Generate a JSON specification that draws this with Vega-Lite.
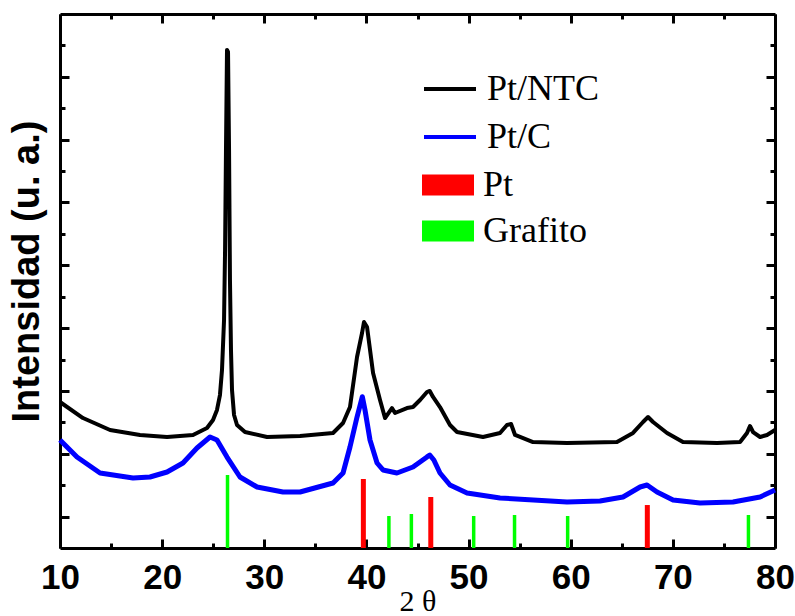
{
  "$schema": "https://vega.github.io/schema/vega-lite/v6.json",
  "width": 715,
  "height": 534,
  "autosize": "none",
  "padding": {"left": 60, "top": 14, "right": 20, "bottom": 68},
  "background": "white",
  "config": {
    "view": {"stroke": null},
    "axis": {
      "grid": false,
      "domainColor": "black",
      "domainWidth": 3,
      "tickColor": "black",
      "tickWidth": 3,
      "tickSize": -9,
      "labelFont": "Liberation Sans",
      "labelFontWeight": "bold",
      "labelFontSize": 35,
      "labelColor": "black",
      "titleColor": "black"
    }
  },
  "datasets": {
    "curvas": [
      {"muestra": "Pt/NTC", "dos_theta": 10.0, "intensidad": 2324},
      {"muestra": "Pt/NTC", "dos_theta": 12.25, "intensidad": 2069},
      {"muestra": "Pt/NTC", "dos_theta": 14.9, "intensidad": 1878},
      {"muestra": "Pt/NTC", "dos_theta": 17.83, "intensidad": 1799},
      {"muestra": "Pt/NTC", "dos_theta": 20.48, "intensidad": 1767},
      {"muestra": "Pt/NTC", "dos_theta": 23.02, "intensidad": 1799},
      {"muestra": "Pt/NTC", "dos_theta": 24.39, "intensidad": 1910},
      {"muestra": "Pt/NTC", "dos_theta": 24.98, "intensidad": 2037},
      {"muestra": "Pt/NTC", "dos_theta": 25.37, "intensidad": 2197},
      {"muestra": "Pt/NTC", "dos_theta": 25.66, "intensidad": 2435},
      {"muestra": "Pt/NTC", "dos_theta": 25.86, "intensidad": 2833},
      {"muestra": "Pt/NTC", "dos_theta": 26.06, "intensidad": 3629},
      {"muestra": "Pt/NTC", "dos_theta": 26.16, "intensidad": 4743},
      {"muestra": "Pt/NTC", "dos_theta": 26.25, "intensidad": 6335},
      {"muestra": "Pt/NTC", "dos_theta": 26.35, "intensidad": 7927},
      {"muestra": "Pt/NTC", "dos_theta": 26.45, "intensidad": 7895},
      {"muestra": "Pt/NTC", "dos_theta": 26.55, "intensidad": 6335},
      {"muestra": "Pt/NTC", "dos_theta": 26.64, "intensidad": 4266},
      {"muestra": "Pt/NTC", "dos_theta": 26.74, "intensidad": 3152},
      {"muestra": "Pt/NTC", "dos_theta": 26.84, "intensidad": 2515},
      {"muestra": "Pt/NTC", "dos_theta": 27.04, "intensidad": 2117},
      {"muestra": "Pt/NTC", "dos_theta": 27.33, "intensidad": 1958},
      {"muestra": "Pt/NTC", "dos_theta": 28.11, "intensidad": 1846},
      {"muestra": "Pt/NTC", "dos_theta": 30.27, "intensidad": 1767},
      {"muestra": "Pt/NTC", "dos_theta": 33.5, "intensidad": 1783},
      {"muestra": "Pt/NTC", "dos_theta": 36.73, "intensidad": 1831},
      {"muestra": "Pt/NTC", "dos_theta": 37.71, "intensidad": 1990},
      {"muestra": "Pt/NTC", "dos_theta": 38.39, "intensidad": 2244},
      {"muestra": "Pt/NTC", "dos_theta": 39.08, "intensidad": 3040},
      {"muestra": "Pt/NTC", "dos_theta": 39.57, "intensidad": 3422},
      {"muestra": "Pt/NTC", "dos_theta": 39.76, "intensidad": 3597},
      {"muestra": "Pt/NTC", "dos_theta": 40.06, "intensidad": 3518},
      {"muestra": "Pt/NTC", "dos_theta": 40.65, "intensidad": 2786},
      {"muestra": "Pt/NTC", "dos_theta": 41.33, "intensidad": 2356},
      {"muestra": "Pt/NTC", "dos_theta": 41.82, "intensidad": 2069},
      {"muestra": "Pt/NTC", "dos_theta": 42.5, "intensidad": 2228},
      {"muestra": "Pt/NTC", "dos_theta": 42.8, "intensidad": 2149},
      {"muestra": "Pt/NTC", "dos_theta": 43.97, "intensidad": 2228},
      {"muestra": "Pt/NTC", "dos_theta": 44.56, "intensidad": 2244},
      {"muestra": "Pt/NTC", "dos_theta": 45.25, "intensidad": 2356},
      {"muestra": "Pt/NTC", "dos_theta": 45.93, "intensidad": 2483},
      {"muestra": "Pt/NTC", "dos_theta": 46.2, "intensidad": 2500},
      {"muestra": "Pt/NTC", "dos_theta": 46.52, "intensidad": 2404},
      {"muestra": "Pt/NTC", "dos_theta": 47.2, "intensidad": 2244},
      {"muestra": "Pt/NTC", "dos_theta": 48.18, "intensidad": 1958},
      {"muestra": "Pt/NTC", "dos_theta": 48.87, "intensidad": 1846},
      {"muestra": "Pt/NTC", "dos_theta": 51.41, "intensidad": 1767},
      {"muestra": "Pt/NTC", "dos_theta": 53.08, "intensidad": 1831},
      {"muestra": "Pt/NTC", "dos_theta": 53.76, "intensidad": 1958},
      {"muestra": "Pt/NTC", "dos_theta": 54.16, "intensidad": 1974},
      {"muestra": "Pt/NTC", "dos_theta": 54.55, "intensidad": 1799},
      {"muestra": "Pt/NTC", "dos_theta": 56.31, "intensidad": 1687},
      {"muestra": "Pt/NTC", "dos_theta": 59.64, "intensidad": 1671},
      {"muestra": "Pt/NTC", "dos_theta": 64.53, "intensidad": 1687},
      {"muestra": "Pt/NTC", "dos_theta": 66.1, "intensidad": 1831},
      {"muestra": "Pt/NTC", "dos_theta": 67.08, "intensidad": 2006},
      {"muestra": "Pt/NTC", "dos_theta": 67.57, "intensidad": 2085},
      {"muestra": "Pt/NTC", "dos_theta": 68.06, "intensidad": 2006},
      {"muestra": "Pt/NTC", "dos_theta": 69.43, "intensidad": 1831},
      {"muestra": "Pt/NTC", "dos_theta": 70.99, "intensidad": 1687},
      {"muestra": "Pt/NTC", "dos_theta": 74.32, "intensidad": 1671},
      {"muestra": "Pt/NTC", "dos_theta": 76.58, "intensidad": 1687},
      {"muestra": "Pt/NTC", "dos_theta": 77.26, "intensidad": 1831},
      {"muestra": "Pt/NTC", "dos_theta": 77.55, "intensidad": 1942},
      {"muestra": "Pt/NTC", "dos_theta": 77.85, "intensidad": 1846},
      {"muestra": "Pt/NTC", "dos_theta": 78.54, "intensidad": 1767},
      {"muestra": "Pt/NTC", "dos_theta": 79.22, "intensidad": 1799},
      {"muestra": "Pt/NTC", "dos_theta": 80.0, "intensidad": 1878},
      {"muestra": "Pt/C", "dos_theta": 10.0, "intensidad": 1719},
      {"muestra": "Pt/C", "dos_theta": 11.66, "intensidad": 1448},
      {"muestra": "Pt/C", "dos_theta": 13.92, "intensidad": 1194},
      {"muestra": "Pt/C", "dos_theta": 17.15, "intensidad": 1114},
      {"muestra": "Pt/C", "dos_theta": 18.81, "intensidad": 1130},
      {"muestra": "Pt/C", "dos_theta": 20.48, "intensidad": 1210},
      {"muestra": "Pt/C", "dos_theta": 22.04, "intensidad": 1353},
      {"muestra": "Pt/C", "dos_theta": 23.41, "intensidad": 1592},
      {"muestra": "Pt/C", "dos_theta": 24.69, "intensidad": 1767},
      {"muestra": "Pt/C", "dos_theta": 25.37, "intensidad": 1719},
      {"muestra": "Pt/C", "dos_theta": 26.35, "intensidad": 1448},
      {"muestra": "Pt/C", "dos_theta": 27.62, "intensidad": 1130},
      {"muestra": "Pt/C", "dos_theta": 29.29, "intensidad": 971},
      {"muestra": "Pt/C", "dos_theta": 31.83, "intensidad": 891},
      {"muestra": "Pt/C", "dos_theta": 33.5, "intensidad": 891},
      {"muestra": "Pt/C", "dos_theta": 36.73, "intensidad": 1035},
      {"muestra": "Pt/C", "dos_theta": 37.71, "intensidad": 1194},
      {"muestra": "Pt/C", "dos_theta": 38.39, "intensidad": 1608},
      {"muestra": "Pt/C", "dos_theta": 39.08, "intensidad": 2085},
      {"muestra": "Pt/C", "dos_theta": 39.6, "intensidad": 2408},
      {"muestra": "Pt/C", "dos_theta": 39.86, "intensidad": 2197},
      {"muestra": "Pt/C", "dos_theta": 40.35, "intensidad": 1719},
      {"muestra": "Pt/C", "dos_theta": 41.04, "intensidad": 1353},
      {"muestra": "Pt/C", "dos_theta": 41.62, "intensidad": 1242},
      {"muestra": "Pt/C", "dos_theta": 42.99, "intensidad": 1194},
      {"muestra": "Pt/C", "dos_theta": 44.56, "intensidad": 1289},
      {"muestra": "Pt/C", "dos_theta": 45.93, "intensidad": 1450},
      {"muestra": "Pt/C", "dos_theta": 46.2, "intensidad": 1480},
      {"muestra": "Pt/C", "dos_theta": 46.6, "intensidad": 1400},
      {"muestra": "Pt/C", "dos_theta": 47.2, "intensidad": 1194},
      {"muestra": "Pt/C", "dos_theta": 48.18, "intensidad": 1003},
      {"muestra": "Pt/C", "dos_theta": 49.85, "intensidad": 875},
      {"muestra": "Pt/C", "dos_theta": 53.08, "intensidad": 796},
      {"muestra": "Pt/C", "dos_theta": 59.64, "intensidad": 732},
      {"muestra": "Pt/C", "dos_theta": 62.87, "intensidad": 748},
      {"muestra": "Pt/C", "dos_theta": 65.12, "intensidad": 812},
      {"muestra": "Pt/C", "dos_theta": 66.79, "intensidad": 971},
      {"muestra": "Pt/C", "dos_theta": 67.47, "intensidad": 1003},
      {"muestra": "Pt/C", "dos_theta": 68.45, "intensidad": 891},
      {"muestra": "Pt/C", "dos_theta": 70.02, "intensidad": 764},
      {"muestra": "Pt/C", "dos_theta": 72.66, "intensidad": 716},
      {"muestra": "Pt/C", "dos_theta": 75.89, "intensidad": 732},
      {"muestra": "Pt/C", "dos_theta": 78.54, "intensidad": 812},
      {"muestra": "Pt/C", "dos_theta": 80.0, "intensidad": 923}
    ],
    "picos": [
      {"fase": "Grafito", "dos_theta": 26.4, "intensidad": 1162},
      {"fase": "Pt", "dos_theta": 39.7, "intensidad": 1098},
      {"fase": "Grafito", "dos_theta": 42.2, "intensidad": 509},
      {"fase": "Grafito", "dos_theta": 44.4, "intensidad": 541},
      {"fase": "Pt", "dos_theta": 46.3, "intensidad": 812},
      {"fase": "Grafito", "dos_theta": 50.5, "intensidad": 509},
      {"fase": "Grafito", "dos_theta": 54.5, "intensidad": 525},
      {"fase": "Grafito", "dos_theta": 59.7, "intensidad": 509},
      {"fase": "Pt", "dos_theta": 67.5, "intensidad": 684},
      {"fase": "Grafito", "dos_theta": 77.4, "intensidad": 525}
    ]
  },
  "layer": [
    {
      "data": {"name": "curvas"},
      "transform": [{"filter": "datum.muestra === 'Pt/NTC'"}],
      "mark": {"type": "line", "strokeWidth": 4, "strokeJoin": "round"},
      "encoding": {
        "x": {
          "field": "dos_theta", "type": "quantitative",
          "scale": {"domain": [10, 80], "nice": false, "zero": false, "padding": 0},
          "axis": {
            "orient": "bottom", "values": [10, 20, 30, 40, 50, 60, 70, 80],
            "labelFlush": false, "labelBaseline": "alphabetic", "labelPadding": 49,
            "title": "2 θ", "titleFont": "Liberation Serif", "titleFontSize": 30,
            "titleFontWeight": "normal", "titleBaseline": "alphabetic", "titleY": 62
          }
        },
        "y": {
          "field": "intensidad", "type": "quantitative",
          "scale": {"domain": [0, 8500], "nice": false, "zero": true, "padding": 0},
          "axis": {
            "orient": "left", "values": [500, 1500, 2500, 3500, 4500, 5500, 6500, 7500],
            "labels": false,
            "title": "Intensidad (u. a.)", "titleFont": "Liberation Sans", "titleFontWeight": "bold",
            "titleFontSize": 38, "titleAngle": -90, "titleAlign": "center",
            "titleBaseline": "alphabetic", "titleX": -22, "titleY": 257
          }
        },
        "stroke": {
          "field": "muestra", "type": "nominal",
          "scale": {"domain": ["Pt/NTC", "Pt/C"], "range": ["#000000", "#0000ff"]},
          "legend": {
            "orient": "none", "legendX": 362, "legendY": 47, "title": null, "padding": 0,
            "symbolType": "M-1,0H1", "symbolSize": 2704, "symbolStrokeWidth": 4,
            "labelFont": "Liberation Serif", "labelFontSize": 36, "labelColor": "black",
            "labelOffset": 9, "rowPadding": 2
          }
        }
      }
    },
    {
      "data": {"name": "curvas"},
      "transform": [{"filter": "datum.muestra === 'Pt/C'"}],
      "mark": {"type": "line", "strokeWidth": 5, "strokeJoin": "round"},
      "encoding": {
        "x": {
          "field": "dos_theta", "type": "quantitative",
          "axis": {"orient": "top", "values": [10, 20, 30, 40, 50, 60, 70, 80], "labels": false, "title": null}
        },
        "y": {
          "field": "intensidad", "type": "quantitative",
          "axis": {"orient": "right", "values": [500, 1500, 2500, 3500, 4500, 5500, 6500, 7500], "labels": false, "title": null}
        },
        "stroke": {"field": "muestra", "type": "nominal"}
      }
    },
    {
      "data": {"name": "picos"},
      "transform": [{"filter": "datum.fase === 'Pt'"}],
      "mark": {"type": "bar", "width": 5},
      "encoding": {
        "x": {
          "field": "dos_theta", "type": "quantitative",
          "axis": {"orient": "bottom", "values": [15, 25, 35, 45, 55, 65, 75], "tickSize": -5, "domain": false, "labels": false, "title": null}
        },
        "y": {
          "field": "intensidad", "type": "quantitative", "stack": null,
          "axis": {"orient": "left", "values": [1000, 2000, 3000, 4000, 5000, 6000, 7000, 8000], "tickSize": -5, "domain": false, "labels": false, "title": null}
        },
        "fill": {
          "field": "fase", "type": "nominal",
          "scale": {"domain": ["Pt", "Grafito"], "range": ["#ff0000", "#00ff00"]},
          "legend": {
            "orient": "none", "legendX": 362, "legendY": 145, "title": null, "padding": 0,
            "symbolType": "M-1,-0.404H1V0.404H-1Z", "symbolSize": 2704, "symbolStrokeWidth": 0,
            "symbolOpacity": 1,
            "labelFont": "Liberation Serif", "labelFontSize": 36, "labelColor": "black",
            "labelOffset": 9, "rowPadding": 2
          }
        }
      }
    },
    {
      "data": {"name": "picos"},
      "transform": [{"filter": "datum.fase === 'Grafito'"}],
      "mark": {"type": "bar", "width": 3.5},
      "encoding": {
        "x": {
          "field": "dos_theta", "type": "quantitative",
          "axis": {"orient": "top", "values": [15, 25, 35, 45, 55, 65, 75], "tickSize": -5, "domain": false, "labels": false, "title": null}
        },
        "y": {
          "field": "intensidad", "type": "quantitative", "stack": null,
          "axis": {"orient": "right", "values": [1000, 2000, 3000, 4000, 5000, 6000, 7000, 8000], "tickSize": -5, "domain": false, "labels": false, "title": null}
        },
        "fill": {"field": "fase", "type": "nominal"}
      }
    }
  ],
  "resolve": {"axis": {"x": "independent", "y": "independent"}}
}
